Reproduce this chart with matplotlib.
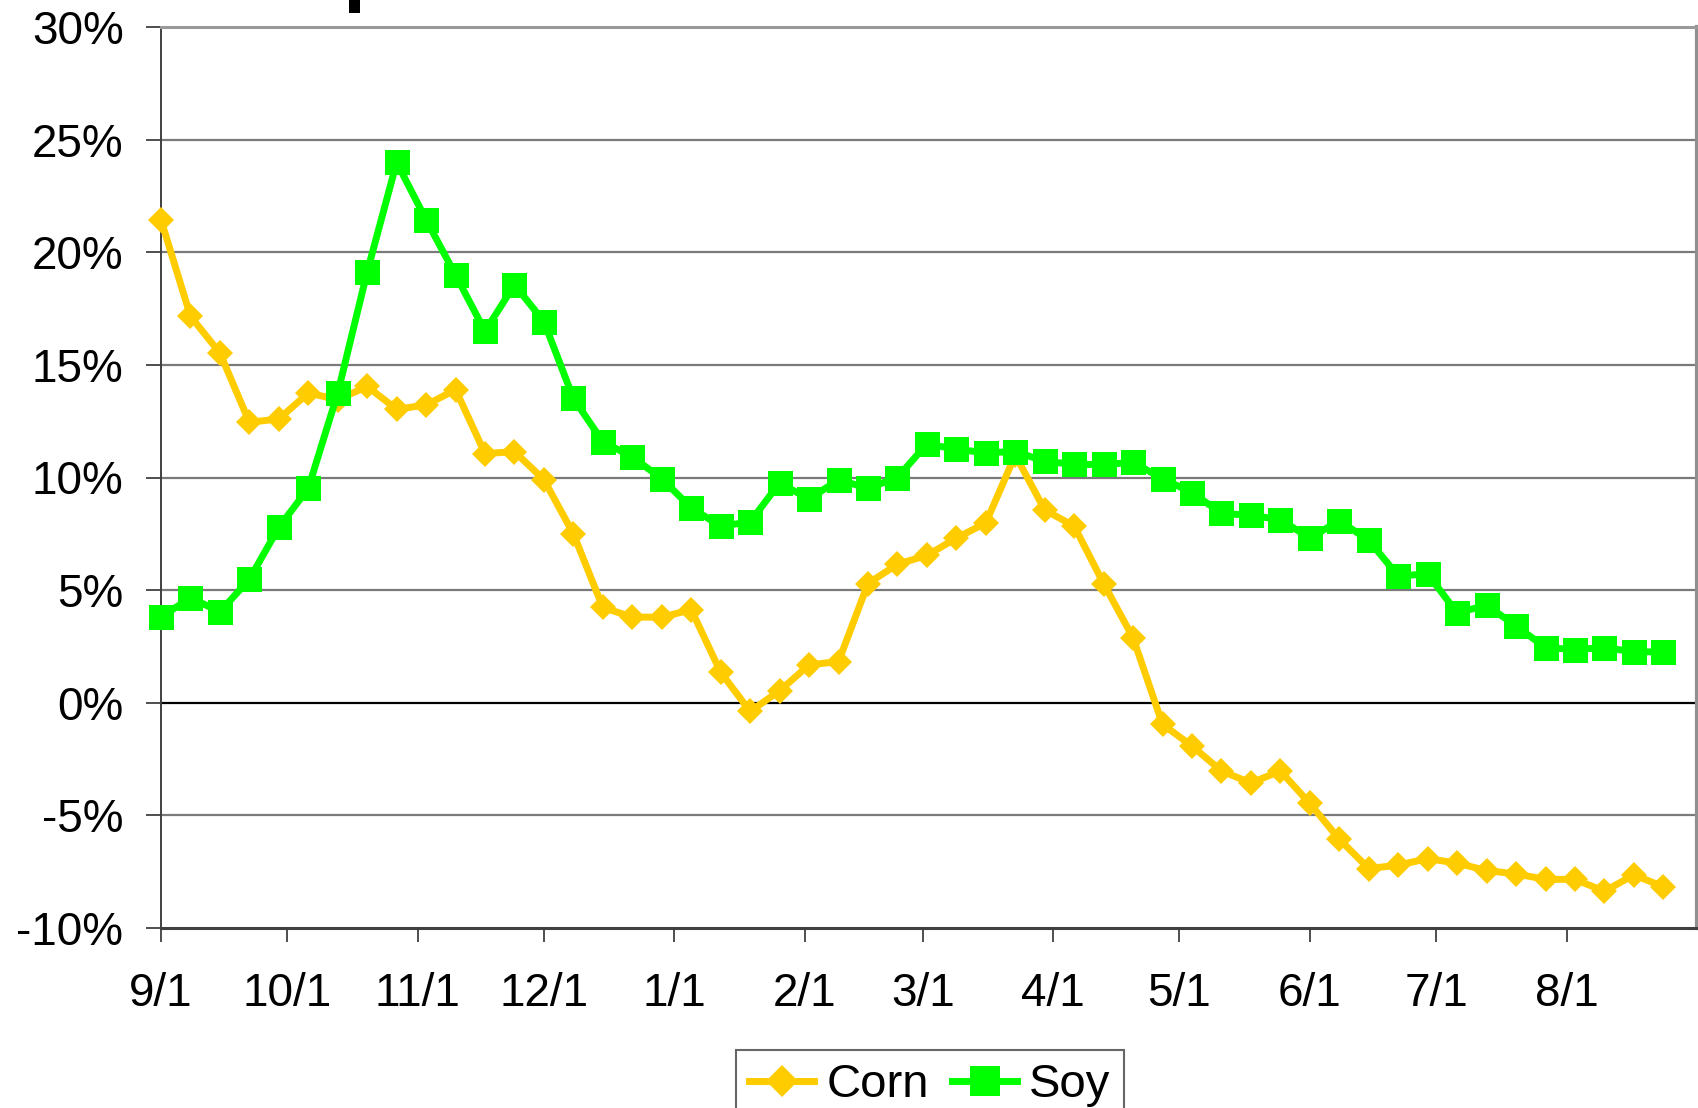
import matplotlib
matplotlib.use("Agg")
import matplotlib.pyplot as plt
from matplotlib.patches import Rectangle
import pandas as pd

plt.rcParams['font.family'] = ['Liberation Sans', 'DejaVu Sans']

start_date = "2006-09-01"
n_weeks = 52

corn = [21.44, 17.16, 15.53, 12.45, 12.6, 13.75, 13.46, 14.04, 13.03, 13.22,
        13.9, 11.06, 11.15, 9.9, 7.5, 4.23, 3.8, 3.8, 4.13, 1.35,
        -0.38, 0.53, 1.68, 1.83, 5.29, 6.15, 6.54, 7.31, 7.98, 11.0,
        8.56, 7.84, 5.29, 2.88, -0.96, -1.92, -3.03, -3.56, -3.03, -4.47,
        -6.06, -7.36, -7.21, -6.92, -7.12, -7.45, -7.6, -7.84, -7.84, -8.37,
        -7.64, -8.17]

soy = [3.8, 4.66, 4.04, 5.48, 7.79, 9.52, 13.75, 19.13, 23.99, 21.44,
       18.99, 16.49, 18.56, 16.92, 13.51, 11.59, 10.91, 9.95, 8.65, 7.84,
       8.03, 9.76, 9.04, 9.9, 9.52, 10.0, 11.49, 11.25, 11.1, 11.15,
       10.72, 10.58, 10.58, 10.67, 9.95, 9.33, 8.41, 8.32, 8.13, 7.31,
       8.08, 7.21, 5.63, 5.72, 3.99, 4.33, 3.41, 2.45, 2.36, 2.45,
       2.26, 2.26]

tick_dates = ["2006-09-01", "2006-10-01", "2006-11-01", "2006-12-01", "2007-01-01",
              "2007-02-01", "2007-03-01", "2007-04-01", "2007-05-01", "2007-06-01",
              "2007-07-01", "2007-08-01"]
tick_labels = ["9/1", "10/1", "11/1", "12/1", "1/1", "2/1", "3/1", "4/1",
               "5/1", "6/1", "7/1", "8/1"]
y_ticks = [-10, -5, 0, 5, 10, 15, 20, 25, 30]
y_labels = ["-10%", "-5%", "0%", "5%", "10%", "15%", "20%", "25%", "30%"]

dates = pd.date_range(start_date, periods=n_weeks, freq="7D")

W, H = 1698, 1108
fig = plt.figure(figsize=(W / 100, H / 100), dpi=100)
ax = fig.add_axes([161 / W, 1 - 928 / H, (1697 - 161) / W, (928 - 27) / H])

corn_color = "#FFCC00"
soy_color = "#00FF00"

ax.plot(dates, corn, color=corn_color, lw=5, marker="D", markersize=13.2,
        markeredgewidth=0, label="Corn", zorder=3, clip_on=False)
ax.plot(dates, soy, color=soy_color, lw=5, marker="s", markersize=18,
        markeredgewidth=0, label="Soy", zorder=4, clip_on=False)

ax.set_xlim(pd.Timestamp("2006-09-01"), pd.Timestamp("2007-09-01"))
ax.set_ylim(-10, 30)

ax.set_xticks(pd.to_datetime(tick_dates))
ax.set_xticklabels(tick_labels)
ax.set_yticks(y_ticks)
ax.set_yticklabels(y_labels)

for v in y_ticks:
    if v == -10:
        continue
    ax.axhline(v, color="#000000" if v == 0 else "#7a7a7a", lw=1.6, zorder=1)

ax.tick_params(axis="x", direction="out", length=10, width=1.3, color="#404040",
               labelsize=33, pad=22)
ax.tick_params(axis="y", direction="out", length=11, width=1.3, color="#404040",
               labelsize=33, pad=16)

ax.spines["left"].set_color("#404040")
ax.spines["left"].set_linewidth(1.4)
ax.spines["bottom"].set_color("#404040")
ax.spines["bottom"].set_linewidth(2.2)
ax.spines["top"].set_color("#9a9a9a")
ax.spines["top"].set_linewidth(2.2)
ax.spines["right"].set_color("#909090")
ax.spines["right"].set_linewidth(3)

leg = fig.legend(loc="upper left", bbox_to_anchor=(736 / W, 1 - 1050 / H),
                 bbox_transform=fig.transFigure, ncol=2, fontsize=34,
                 frameon=True, fancybox=False, edgecolor="#404040",
                 handlelength=1.38, handletextpad=0.25, columnspacing=0.5,
                 borderpad=0.28, borderaxespad=0, markerscale=1.2)
leg.get_frame().set_linewidth(1.5)

# descender of the title that is cropped off above the picture
fig.patches.append(Rectangle((349 / W, 1 - 13 / H), 11 / W, 13 / H,
                             transform=fig.transFigure, facecolor="black",
                             edgecolor="none"))

fig.savefig("out.png", dpi=100)
